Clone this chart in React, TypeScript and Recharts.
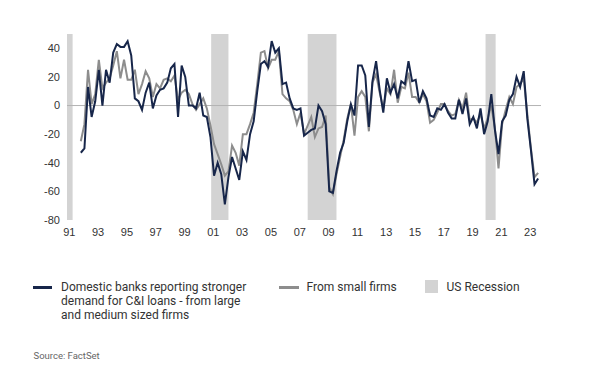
import React from "react";
import { LineChart, Line, XAxis, YAxis, ReferenceArea, ReferenceLine } from "recharts";

// net % of banks reporting stronger C&I loan demand, quarterly from 1991 Q4
const firstQuarter = 1991.8;

const largeMidFirms = [
  -33, -30, 13, -8, 3, 25, 0, 25,
  16, 37, 43, 41, 41, 45, 35, 5,
  3, -3, 9, 16, -2, 7, 11, 12,
  16, 26, 29, -8, 28, 20, 0, 0,
  -2, 9, -7, -8, -22, -49, -40, -48,
  -69, -50, -36, -44, -52, -32, -38, -20,
  -11, 10, 29, 31, 27, 45, 37, 40,
  15, 16, 5, -2, -3, -2, -21, -19,
  -17, -16, 0, -4, -13, -60, -61, -46,
  -33, -26, -11, 1, -7, 28, 28, 21,
  -15, 17, 31, 11, -5, 19, 9, 15,
  5, 17, 15, 31, 17, 18, 2, 10,
  5, -7, -8, -2, -3, 1, -5, -9,
  -9, 4, -6, 5, -13, -8, -16, -2,
  -20, -11, 8, -17, -34, -11, -7, 4,
  8, 20, 13, 24, -9, -31, -55, -51,
];

const smallFirms = [
  -25, -13, 25, 1, 8, 32, 12, 16,
  19, 28, 38, 19, 32, 18, 18, 25,
  8, 15, 24, 19, 6, 15, 12, 18,
  19, 17, 21, 4, 9, 11, 8, 1,
  -3, 1, 5, -2, -14, -27, -34, -41,
  -49, -46, -28, -33, -42, -20, -20, -13,
  -5, 15, 37, 38, 26, 32, 32, 38,
  8, 5, 3, -3, -13, -5, -20, -14,
  -8, -22, -16, -15, -7, -57, -62, -48,
  -36, -24, -9, 1, -21, 6, 10, 6,
  -18, 16, 22, 9, -2, 12, 8, 25,
  2, 13, 12, 23, 6, 6, 2, 8,
  3, -12, -10, -5, 1, 1, -4, -7,
  -6, 4, -2, 9, -10, -9, -12, -6,
  -16, -9, 0, -16, -44, -13, -3, 6,
  1, 13, 15, 19, -6, -30, -50, -47,
];

const recessions = [
  [1990.84, 1991.23],
  [2000.85, 2002.05],
  [2007.55, 2009.55],
  [2019.9, 2020.6],
];

const yearTicks = [
  1991, 1993, 1995, 1997, 1999, 2001, 2003, 2005, 2007,
  2009, 2011, 2013, 2015, 2017, 2019, 2021, 2023,
];
const valueTicks = [-80, -60, -40, -20, 0, 20, 40];

const rows = largeMidFirms.map((v, i) => ({
  t: firstQuarter + i * 0.25,
  large: v,
  small: smallFirms[i],
}));

const NAVY = "#17264a";
const GREY = "#8d8d8d";
const SHADE = "#d3d3d3";

const tickStyle = {
  fontSize: 11,
  fill: "#333",
  fontFamily: "'Liberation Sans Narrow', 'Arial Narrow', 'Liberation Sans', sans-serif",
};

const legendText: React.CSSProperties = {
  position: "absolute",
  top: 280,
  fontFamily: "Roboto, 'Noto Sans', sans-serif",
  fontSize: 12,
  lineHeight: "14px",
  color: "#333",
};

export default function App() {
  return (
    <div style={{ position: "absolute", left: 0, top: 0, width: 602, height: 373, background: "#fff" }}>
      <LineChart
        width={602}
        height={250}
        data={rows}
        margin={{ top: 34, right: 61, left: 17, bottom: 10 }}
      >
        {recessions.map(([a, b]) => (
          <ReferenceArea key={a} x1={a} x2={b} fill={SHADE} fillOpacity={1} stroke="none" />
        ))}
        <ReferenceLine y={0} stroke="#b3b3b3" strokeWidth={1} />
        <XAxis
          type="number"
          dataKey="t"
          domain={[1990.84, 2023.75]}
          ticks={yearTicks}
          interval={0}
          allowDataOverflow
          tickFormatter={(y: number) => String(y).slice(2)}
          axisLine={false}
          tickLine={false}
          tickSize={0}
          tickMargin={8}
          height={20}
          tick={tickStyle}
        />
        <YAxis
          domain={[-80, 50]}
          ticks={valueTicks}
          interval={0}
          axisLine={false}
          tickLine={false}
          tickSize={0}
          tickMargin={7}
          width={50}
          tick={tickStyle}
        />
        <Line
          type="linear"
          dataKey="small"
          stroke={GREY}
          strokeWidth={2}
          dot={false}
          isAnimationActive={false}
        />
        <Line
          type="linear"
          dataKey="large"
          stroke={NAVY}
          strokeWidth={2}
          dot={false}
          isAnimationActive={false}
        />
      </LineChart>

      <div style={{ position: "absolute", left: 33, top: 285.5, width: 19, height: 3, background: NAVY }} />
      <div style={{ ...legendText, left: 61, width: 210 }}>
        Domestic banks reporting stronger
        <br />
        demand for C&amp;I loans - from large
        <br />
        and medium sized firms
      </div>

      <div style={{ position: "absolute", left: 279, top: 285.5, width: 20, height: 3, background: GREY }} />
      <div style={{ ...legendText, left: 306.5 }}>From small firms</div>

      <div style={{ position: "absolute", left: 425, top: 280, width: 12.5, height: 13, background: SHADE }} />
      <div style={{ ...legendText, left: 446.5 }}>US Recession</div>

      <div
        style={{
          position: "absolute",
          left: 33.5,
          top: 349.5,
          fontFamily: "Roboto, 'Noto Sans', sans-serif",
          fontSize: 9.5,
          lineHeight: "11px",
          color: "#666",
        }}
      >
        Source: FactSet
      </div>
    </div>
  );
}
